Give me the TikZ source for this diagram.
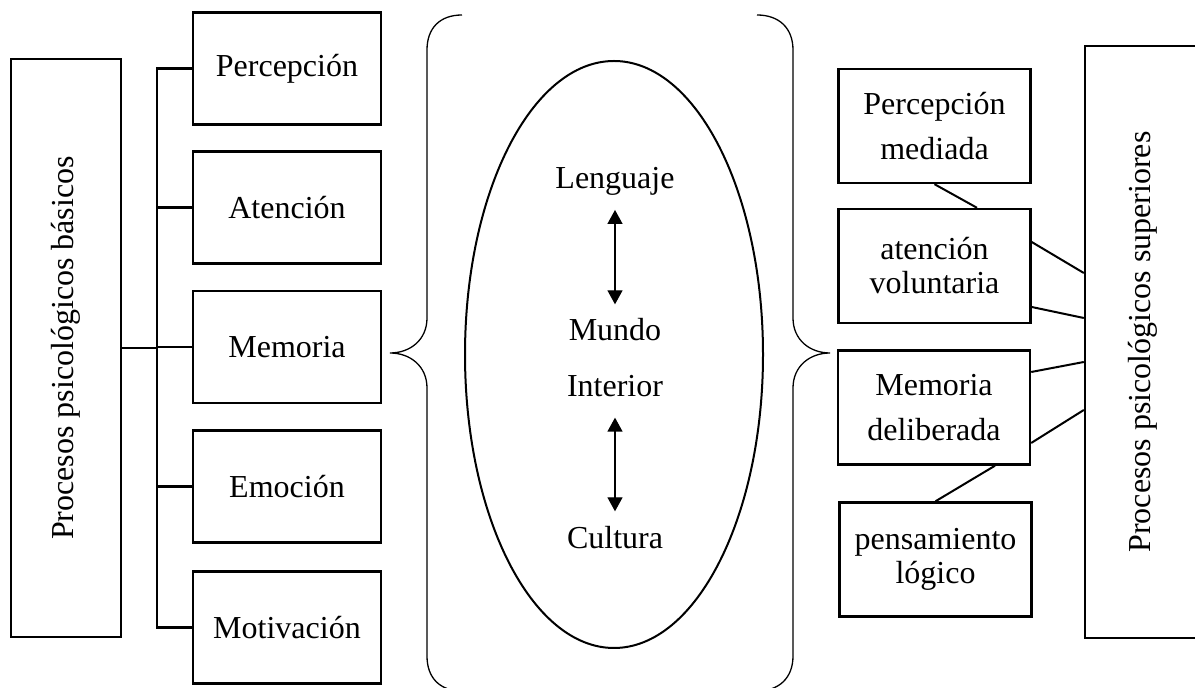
\documentclass[tikz,border=0pt]{standalone}
\usepackage{fontspec}
\setmainfont{Liberation Serif}
\usetikzlibrary{arrows.meta,shapes.geometric}
\tikzset{
  every node/.style={font=\fontsize{16}{17}\selectfont},
  procbox/.style={draw, line width=1.2pt, align=center, inner sep=2pt,
    minimum width=94pt, minimum height=56pt},
  highbox/.style={procbox, minimum width=96pt, minimum height=57pt},
  tallbox/.style={draw, line width=1.2pt, inner sep=0pt},
  plain/.style={inner sep=0pt},
  tree/.style={line width=1.2pt},
  link/.style={line width=1pt},
  brace/.style={line width=0.65pt},
  biarrow/.style={{Triangle[length=7pt,width=7.5pt]}-{Triangle[length=7pt,width=7.5pt]},
    line width=0.65pt, shorten <=7pt, shorten >=7pt},
}
\begin{document}
\begin{tikzpicture}[x=0.5pt, y=-0.5pt]
    \useasboundingbox (0,0) rectangle (1195,688);
    \clip (0,0) rectangle (1195,688);
    % --- basic processes ---
    \node[tallbox, minimum width=55pt, minimum height=289pt] (basic) at (66,348)
      {\rotatebox{90}{Procesos psicológicos básicos}};
    \node[procbox] (per) at (287,68.5) {Percepción};
    \node[procbox] (ate) at (287,207.5) {Atención};
    \node[procbox] (mem) at (287,347) {Memoria};
    \node[procbox] (emo) at (287,486.5) {Emoción};
    \node[procbox] (mot) at (287,627.5) {Motivación};
    \coordinate (spine) at (157,348);
    \draw[tree] (basic.east |- spine) -- (spine);
    \draw[tree] (per.west) -- (per.west -| spine) -- (mot.west -| spine) -- (mot.west);
    \foreach \b in {ate,mem,emo}
      \draw[tree] (\b.west -| spine) -- (\b.west);
    % --- braces ---
    \draw[brace] (462,15) .. controls (440,15) and (427,28) .. (427,50) -- (427,318)
      .. controls (427,340) and (410,353) .. (390,353)
      .. controls (410,353) and (427,366) .. (427,388) -- (427,656)
      .. controls (427,678) and (440,691) .. (462,691);
    \draw[brace] (757,15) .. controls (779,15) and (793,28) .. (793,50) -- (793,318)
      .. controls (793,340) and (810,353) .. (830,353)
      .. controls (810,353) and (793,366) .. (793,388) -- (793,656)
      .. controls (793,678) and (779,691) .. (757,691);
    % --- inner world ---
    \node[ellipse, draw, line width=1pt, minimum width=149pt, minimum height=293.5pt]
      (world) at (614,354.5) {};
    \node[plain] (len) at (615,181.5) {Lenguaje};
    \node[plain] (mun) at (615,330) {Mundo};
    \node[plain] (int) at (615,386.5) {Interior};
    \node[plain] (cul) at (615,538) {Cultura};
    \draw[biarrow] (len) -- (mun);
    \draw[biarrow, shorten <=10pt, shorten >=7.5pt] (int) -- (cul);
    % --- higher processes ---
    \node[highbox] (pm) at (934.5,126) {Percepción\\[5.5pt]mediada};
    \node[highbox] (av) at (934.5,266) {atención\\voluntaria};
    \node[highbox] (md) at (934,407.5) {Memoria\\[5.5pt]deliberada};
    \node[highbox] (pl) at (935.5,559.5) {pensamiento\\lógico};
    \node[tallbox, minimum width=57.5pt, minimum height=296pt] (sup) at (1142.5,342)
      {\rotatebox{90}{Procesos psicológicos superiores}};
    \draw[link] (pm.south) -- ([xshift=21.25pt]av.north);
    \draw[link] ([yshift=12pt]av.east) -- ([yshift=34.5pt]sup.west);
    \draw[link] ([yshift=-20.5pt]av.east) -- ([yshift=12pt]sup.west);
    \draw[link] ([yshift=17.75pt]md.east) -- ([yshift=-10pt]sup.west);
    \draw[link] ([yshift=-17.75pt]md.east) -- ([yshift=-34pt]sup.west);
    \draw[link] ([xshift=30.5pt]md.south) -- (pl.north);
\end{tikzpicture}
\end{document}
